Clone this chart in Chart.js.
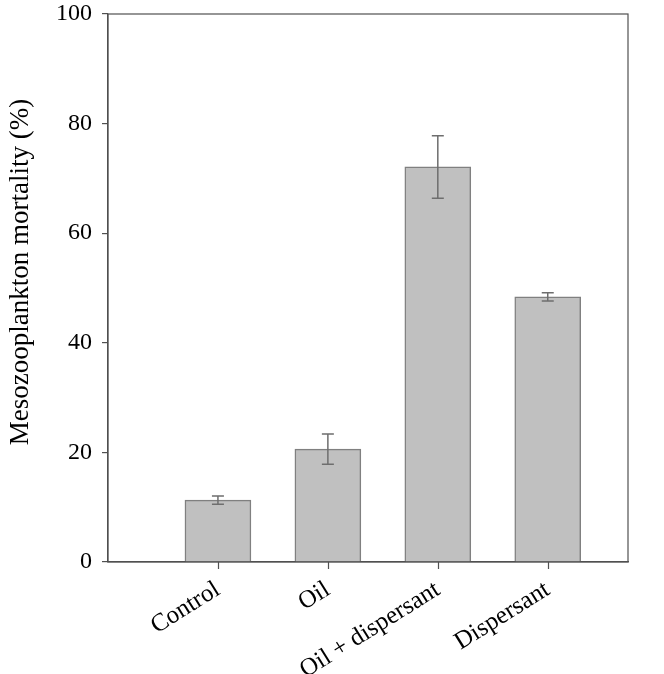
<!DOCTYPE html>
<html>
<head>
<meta charset="utf-8">
<script src="https://cdn.jsdelivr.net/npm/chart.js@4"></script>
<style>
  html, body { margin: 0; padding: 0; background: #fff; }
  #wrap { width: 664px; height: 674px; }
</style>
</head>
<body>
<div id="wrap"><canvas id="chart" width="664" height="674"></canvas></div>
<script>
var treatments = ["Control", "Oil", "Oil + dispersant", "Dispersant"];
var positions = [1, 2, 3, 4];
var mortality = [11.3, 20.6, 72.1, 48.4];
var errors = [0.75, 2.75, 5.7, 0.75];
var yTicks = [0, 20, 40, 60, 80, 100];
var yTitle = 'Mesozooplankton mortality (%)';

var axisColor = '#505050';
var serif = "'Liberation Serif', 'Times New Roman', serif";

// error bars, x tick marks, closed frame and y title
var extras = {
    id: 'extras',
    afterDatasetsDraw: function (chart) {
        var ctx = chart.ctx;
        var xScale = chart.scales.x;
        var yScale = chart.scales.y;
        var meta = chart.getDatasetMeta(0);
        var a = chart.chartArea;
        ctx.save();
        ctx.strokeStyle = '#6e6e6e';
        ctx.lineWidth = 1.5;
        meta.data.forEach(function (bar, i) {
            var top = yScale.getPixelForValue(mortality[i] + errors[i]);
            var bot = yScale.getPixelForValue(mortality[i] - errors[i]);
            var x = bar.x;
            ctx.beginPath();
            ctx.moveTo(x, top); ctx.lineTo(x, bot);
            ctx.moveTo(x - 6, top); ctx.lineTo(x + 6, top);
            ctx.moveTo(x - 6, bot); ctx.lineTo(x + 6, bot);
            ctx.stroke();
        });
        ctx.strokeStyle = axisColor;
        ctx.lineWidth = 1.2;
        ctx.strokeRect(a.left, a.top, a.right - a.left, a.bottom - a.top);
        ctx.beginPath();
        positions.forEach(function (p) {
            var x = Math.round(xScale.getPixelForValue(p)) + 0.5;
            ctx.moveTo(x, a.bottom); ctx.lineTo(x, a.bottom + 7);
        });
        ctx.stroke();

        ctx.translate(21, 272);
        ctx.rotate(-Math.PI / 2);
        ctx.fillStyle = '#000';
        ctx.font = '27px ' + serif;
        ctx.textAlign = 'center';
        ctx.textBaseline = 'middle';
        ctx.fillText(yTitle, 0, 0);
        ctx.restore();
    }
};

var ctx = document.getElementById('chart').getContext('2d');
var myChart = new Chart(ctx, {
    type: 'bar',
    data: {
        datasets: [{
            data: positions.map(function (p, i) { return { x: p, y: mortality[i] }; }),
            backgroundColor: '#c0c0c0',
            borderColor: '#808080',
            borderWidth: 1.5,
            barThickness: 66
        }]
    },
    plugins: [extras],
    options: {
        responsive: false,
        animation: false,
        layout: { padding: { top: 14, right: 36, left: 0, bottom: 0 } },
        plugins: { legend: { display: false }, tooltip: { enabled: false } },
        scales: {
            x: {
                type: 'linear',
                min: 0,
                max: 4.73,
                offset: false,
                afterBuildTicks: function (axis) {
                    axis.ticks = positions.map(function (v) { return { value: v }; });
                },
                afterFit: function (axis) { axis.height = 112; axis.paddingLeft = 0; axis.paddingRight = 0; },
                grid: { display: false, drawTicks: true, tickLength: 7 },
                border: { display: true, color: axisColor, width: 1.2 },
                ticks: {
                    autoSkip: false,
                    minRotation: 32,
                    maxRotation: 32,
                    padding: 6,
                    color: '#000',
                    font: { family: serif, size: 25 },
                    callback: function (v) {
                        var i = positions.indexOf(v);
                        return i >= 0 ? treatments[i] : '';
                    }
                }
            },
            y: {
                min: 0,
                max: 100,
                afterBuildTicks: function (axis) {
                    axis.ticks = yTicks.map(function (v) { return { value: v }; });
                },
                afterFit: function (axis) { axis.width = 108; axis.paddingTop = 0; axis.paddingBottom = 0; },
                grid: { display: true, drawOnChartArea: false, drawTicks: true, tickLength: 6, color: axisColor, lineWidth: 1.2 },
                border: { display: true, color: axisColor, width: 1.2 },
                ticks: {
                    padding: 10,
                    color: '#000',
                    font: { family: serif, size: 24 }
                }
            }
        }
    }
});
</script>
</body>
</html>
